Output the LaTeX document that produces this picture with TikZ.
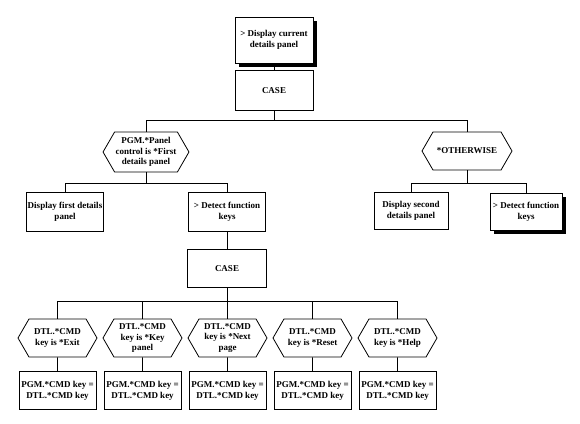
\documentclass[tikz,border=0pt]{standalone}
\usepackage{fontspec}
\setmainfont{Liberation Serif}
\usetikzlibrary{shapes.symbols, positioning, shadows}

\begin{document}
\begin{tikzpicture}[
    x=1pt, y=-1pt,
    line width=0.8pt,
    font=\fontsize{9}{10.5}\selectfont\bfseries,
    box/.style={draw, rectangle, minimum width=77pt, minimum height=38pt, inner sep=1pt, align=center, fill=white},
    hexa/.style={draw, signal, signal to=west and east, signal pointer angle=120, minimum width=79pt, minimum height=38pt, inner sep=1pt, align=center, fill=white},
    shadowed/.style={drop shadow={shadow xshift=3.5pt, shadow yshift=-3.5pt, fill=black, opacity=1}}
]

    \useasboundingbox (0,0) rectangle (580,423);

    % Top of the tree
    \node[box, shadowed, minimum width=78pt, minimum height=46pt] (top) at (274,40) {> Display current\\details panel};
    \node[box, minimum width=78pt, minimum height=40pt, below=7pt of top] (case1) {CASE};

    % First case
    \node[hexa, minimum width=83pt, minimum height=40pt] (panel) at (146,152) {PGM.*Panel\\control is *First\\details panel};
    \node[hexa, minimum width=90pt] (other) at (467,151) {*OTHERWISE};

    % Actions
    \node[box, minimum height=39pt] (first) at (65,212) {Display first details\\panel};
    \node[box, minimum height=39pt] (detect) at (227,212) {> Detect function\\keys};
    \node[box, minimum width=74pt, minimum height=37pt] (second) at (411,211) {Display second\\details panel};
    \node[box, shadowed, minimum width=72pt, minimum height=37pt] (detect2) at (526,212) {> Detect function\\keys};

    % Second case
    \node[box, minimum width=79pt, below=17pt of detect] (case2) {CASE};

    \node[hexa] (exit) at (57.5,338) {DTL.*CMD\\key is *Exit};
    \node[hexa] (keyp) at (142.5,338) {DTL.*CMD\\key is *Key\\panel};
    \node[hexa] (next) at (227.5,338) {DTL.*CMD\\key is *Next\\page};
    \node[hexa] (reset) at (312.5,338) {DTL.*CMD\\key is *Reset};
    \node[hexa] (help) at (397.5,338) {DTL.*CMD\\key is *Help};

    \node[box, below=14pt of exit] (setexit) {PGM.*CMD key =\\DTL.*CMD key};
    \node[box, below=14pt of keyp] (setkeyp) {PGM.*CMD key =\\DTL.*CMD key};
    \node[box, below=14pt of next] (setnext) {PGM.*CMD key =\\DTL.*CMD key};
    \node[box, below=14pt of reset] (setreset) {PGM.*CMD key =\\DTL.*CMD key};
    \node[box, below=14pt of help] (sethelp) {PGM.*CMD key =\\DTL.*CMD key};

    % Bus lines
    \coordinate (bus1) at (0,120);
    \coordinate (bus2) at (0,183);
    \coordinate (bus3) at (0,301);

    % Connections
    \draw (top) -- (case1);
    \draw (case1.south) -- (case1.south |- bus1);
    \draw (panel.north) |- (other.north |- bus1) -- (other.north);

    \draw (panel.south) -- (panel.south |- bus2);
    \draw (first.north) |- (detect.north |- bus2) -- (detect.north);
    \draw (other.south) -- (other.south |- bus2);
    \draw (second.north) |- (detect2.north |- bus2) -- (detect2.north);

    \draw (detect) -- (case2);
    \draw (case2.south) -- (case2.south |- bus3);
    \draw (exit.north) |- (help.north |- bus3) -- (help.north);
    \draw (keyp.north) -- (keyp.north |- bus3);
    \draw (next.north) -- (next.north |- bus3);
    \draw (reset.north) -- (reset.north |- bus3);

    \draw (exit) -- (setexit);
    \draw (keyp) -- (setkeyp);
    \draw (next) -- (setnext);
    \draw (reset) -- (setreset);
    \draw (help) -- (sethelp);

\end{tikzpicture}
\end{document}
